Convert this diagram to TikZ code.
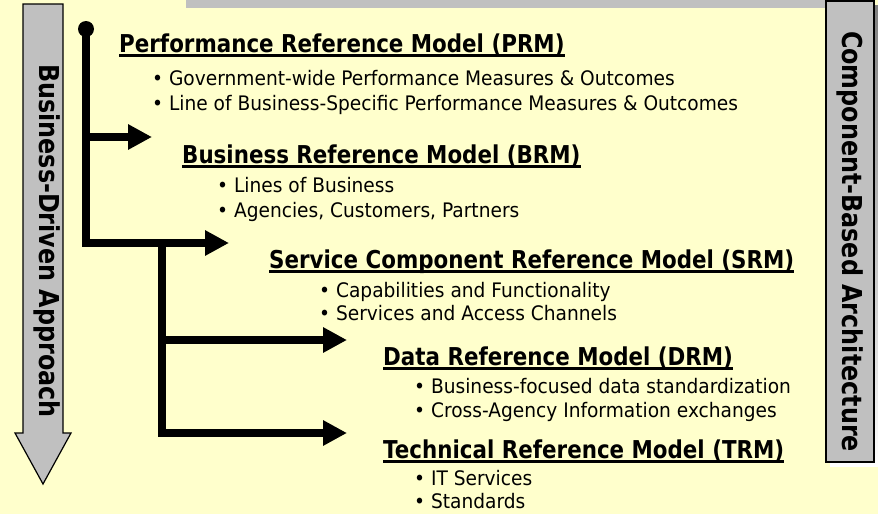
\documentclass[tikz,border=0pt]{standalone}
\usepackage{fontspec}
\setmainfont{DejaVu Sans}
\newfontfamily\regf{DejaVu Sans}[FakeStretch=0.93]
\newfontfamily\boldf{DejaVu Sans}[FakeStretch=0.87]
\usetikzlibrary{arrows.meta}
\definecolor{bg}{HTML}{FFFFCC}
\definecolor{panel}{HTML}{C0C0C0}
\definecolor{shade}{HTML}{808080}
\begin{document}
\begin{tikzpicture}[x=1pt,y=-1pt,
  title/.style={inner sep=0pt, anchor=base west, font=\boldf\bfseries\fontsize{24.6}{28}\selectfont},
  item/.style={inner sep=0pt, anchor=base west, font=\regf\fontsize{20}{24}\selectfont},
  side/.style={inner sep=0pt, anchor=base, rotate=-90, font=\boldf\bfseries\fontsize{27.4}{30}\selectfont},
  trunk/.style={line width=8pt, line join=miter, line cap=butt},
  flow/.style={trunk, -{Triangle[length=24pt,width=24pt]}},
  ul/.style={line width=2.2pt},
  panelbox/.style={fill=panel, draw=black, line width=1.2pt},
  dotnode/.style={circle, fill=black, inner sep=0pt, minimum size=16pt}]
\useasboundingbox (0,0) rectangle (878,514);
\fill[bg] (0,0) rectangle (878,514);
% top bar
\fill[panel] (186,0) rectangle (826,8);
% right box with shadow
\fill[shade] (830,5) rectangle (878,466);
\draw[panelbox] (826,1) rectangle (874,462);
\node[side] (cba) at (842,241.5) {Component-Based Architecture};
% left arrow
\draw[panelbox, line join=miter] (23,4) -- (63,4) -- (63,433) -- (71,433) -- (43,484) -- (15,433) -- (23,433) -- cycle;
\node[side] (bda) at (39,241) {Business-Driven Approach};

% texts
\node[title] (prm) at (119,52) {Performance Reference Model (PRM)};
\node[item] (prm1) at (152,85) {• Government-wide Performance Measures \& Outcomes};
\node[item] (prm2) at (152,110) {• Line of Business-Specific Performance Measures \& Outcomes};
\node[title] (brm) at (182,163) {Business Reference Model (BRM)};
\node[item] (brm1) at (217,192) {• Lines of Business};
\node[item] (brm2) at (217,217) {• Agencies, Customers, Partners};
\node[title] (srm) at (269,268) {Service Component Reference Model (SRM)};
\node[item] (srm1) at (319,297) {• Capabilities and Functionality};
\node[item] (srm2) at (319,320) {• Services and Access Channels};
\node[title] (drm) at (383,365) {Data Reference Model (DRM)};
\node[item] (drm1) at (414,393) {• Business-focused data standardization};
\node[item] (drm2) at (414,417) {• Cross-Agency Information exchanges};
\node[title] (trm) at (383,458) {Technical Reference Model (TRM)};
\node[item] (trm1) at (414,485) {• IT Services};
\node[item] (trm2) at (414,508) {• Standards};
\foreach \n in {prm,brm,srm,drm,trm}
  \draw[ul] ([yshift=-3.5pt]\n.base west) -- ([yshift=-3.5pt]\n.base east);

% connectors
\node[dotnode] (start) at (86,29) {};
\coordinate (j1) at (86,137);
\coordinate (t1) at (152,137);
\coordinate (j2) at (86,243);
\coordinate (t2) at (229,243);
\coordinate (k2) at (162,243);
\coordinate (j3) at (162,340);
\coordinate (t3) at (347,340);
\coordinate (j4) at (162,433);
\coordinate (t4) at (347,433);
\draw[flow] (start.center) -- (j2) -- (t2);
\draw[flow] (j1) -- (t1);
\draw[flow] (k2) -- (j4) -- (t4);
\draw[flow] (j3) -- (t3);
\end{tikzpicture}
\end{document}
